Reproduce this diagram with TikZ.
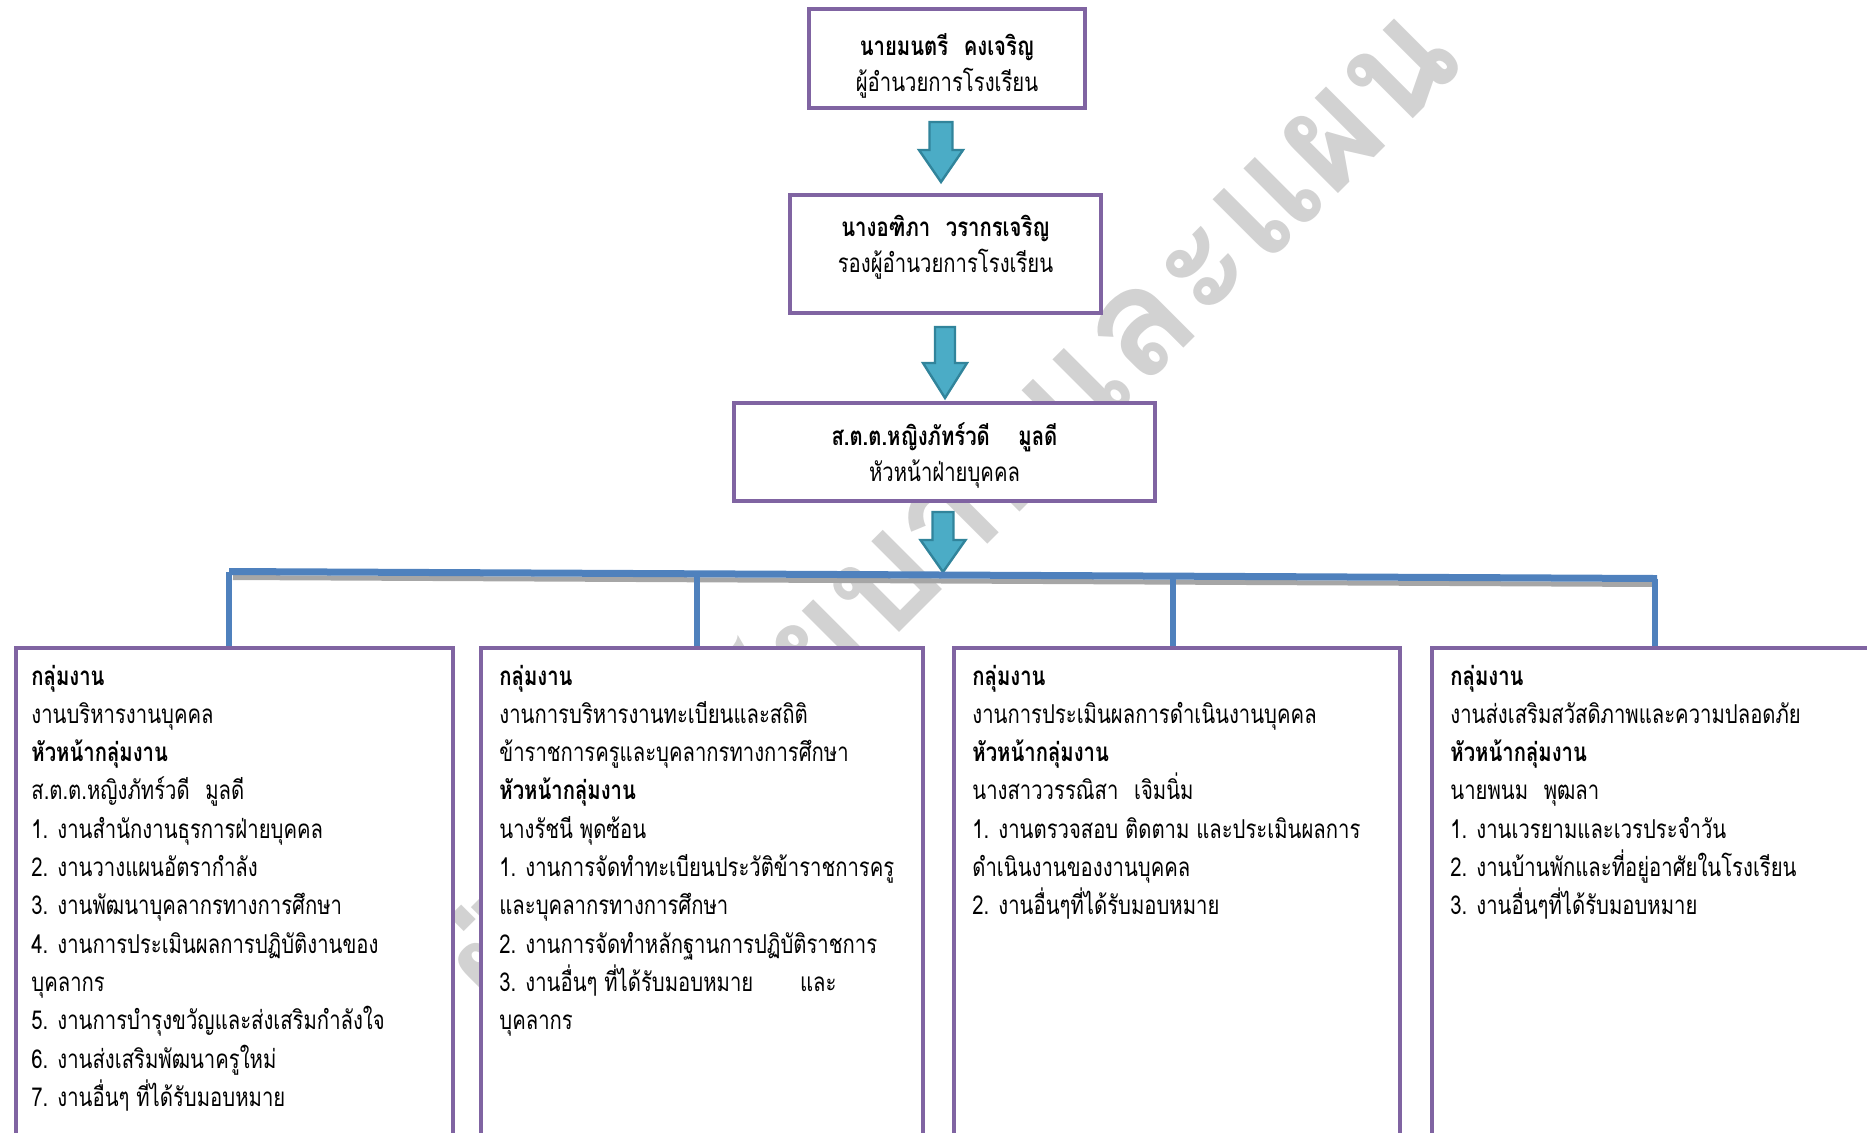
\documentclass[tikz,border=0pt]{standalone}
\usepackage{fontspec}
\usepackage{graphicx}
\setmainfont[Script=Thai, FakeStretch=0.78]{Loma}
\newfontfamily\wmfont[Script=Thai]{Loma}
\usetikzlibrary{calc}
\definecolor{boxpurple}{HTML}{8064A2}
\definecolor{busblue}{HTML}{4F81BD}
\definecolor{arrowfill}{HTML}{4BACC6}
\definecolor{arrowline}{HTML}{31849B}
\definecolor{shadowgray}{HTML}{A6A6A6}
\definecolor{wmgray}{HTML}{D2D2D2}
\begin{document}
\begin{tikzpicture}[x=0.5pt,y=-0.5pt,
  orgbox/.style={draw=boxpurple, line width=2pt, fill=white, rectangle, inner sep=0pt},
  toptext/.style={anchor=base, inner sep=0pt, font=\fontsize{13}{18}\selectfont},
  listtext/.style={anchor=base west, inner sep=0pt, font=\fontsize{13}{19.15}\selectfont},
  blockarrow/.style={fill=arrowfill, draw=arrowline, line width=1.2pt, line join=miter},
  busline/.style={draw=busblue, line width=3.5pt},
  busdrop/.style={draw=busblue, line width=3pt},
  busshadow/.style={draw=shadowgray, line width=2.5pt},
  watermark/.style={text=wmgray, inner sep=0pt, rotate=45}]
\useasboundingbox (0,0) rectangle (1867,1132);
\clip (0,0) rectangle (1867,1132);

% watermark
\node[watermark] (wm) at (945,505) {\resizebox{680pt}{!}{\wmfont\bfseries ฝ่ายนโยบายและแผน}};

% top boxes
\node[orgbox, minimum width=138pt, minimum height=49.5pt] (t1) at (947,58.5) {};
\node[orgbox, minimum width=155.5pt, minimum height=59pt] (t2) at (945.5,254) {};
\node[orgbox, minimum width=210.5pt, minimum height=49pt] (t3) at (944.5,452) {};

\node[toptext] (t1txt) at (947,55) {\parbox[t]{200pt}{\centering\textbf{นายมนตรี\hspace{0.6em}คงเจริญ}\\ผู้อำนวยการโรงเรียน}};
\node[toptext] (t2txt) at (945.5,236) {\parbox[t]{200pt}{\centering\textbf{นางอฑิภา\hspace{0.6em}วรากรเจริญ}\\รองผู้อำนวยการโรงเรียน}};
\node[toptext] (t3txt) at (944.5,445) {\parbox[t]{200pt}{\centering\textbf{ส.ต.ต.หญิงภัทร์วดี\hspace{1.1em}มูลดี}\\หัวหน้าฝ่ายบุคคล}};

% block arrows
\filldraw[blockarrow] (929.5,122) -- (952.5,122) -- (952.5,150) -- (963,150) -- (941,182) -- (919,150) -- (929.5,150) -- cycle;
\filldraw[blockarrow] (935,327) -- (955,327) -- (955,363) -- (967,363) -- (945,398) -- (923,363) -- (935,363) -- cycle;
\filldraw[blockarrow] (932.5,512) -- (953.5,512) -- (953.5,540) -- (965.5,540) -- (943,572) -- (920.5,540) -- (932.5,540) -- cycle;

% bottom boxes
\node[orgbox, anchor=north west, minimum width=218.5pt, minimum height=270pt] (b1) at (14,646) {};
\node[orgbox, anchor=north west, minimum width=221pt, minimum height=270pt] (b2) at (479,646) {};
\node[orgbox, anchor=north west, minimum width=223pt, minimum height=270pt] (b3) at (952,646) {};
\node[orgbox, anchor=north west, minimum width=240pt, minimum height=270pt] (b4) at (1430,646) {};

% bus
\coordinate (busL) at (229,571.5);
\coordinate (busR) at (1657,578.5);
\coordinate (v1) at (229,571.5);
\coordinate (v2) at (697,573.8);
\coordinate (v3) at (1173,576.1);
\coordinate (v4) at (1655,578.5);
\draw[busshadow] ($(busL)+(4,6)$) -- ($(busR)+(0,6)$);
\draw[busline] (busL) -- (busR);
\draw[busdrop] (v1) -- (v1 |- b1.north);
\draw[busdrop] (v2) -- (v2 |- b2.north);
\draw[busdrop] (v3) -- (v3 |- b3.north);
\draw[busdrop] (v4) -- (v4 |- b4.north);

% list texts
\node[listtext] (b1txt) at (31,685) {\parbox[t]{300pt}{\raggedright
\textbf{กลุ่มงาน}\\
งานบริหารงานบุคคล\\
\textbf{หัวหน้ากลุ่มงาน}\\
ส.ต.ต.หญิงภัทร์วดี\hspace{0.6em}มูลดี\\
1. งานสำนักงานธุรการฝ่ายบุคคล\\
2. งานวางแผนอัตรากำลัง\\
3. งานพัฒนาบุคลากรทางการศึกษา\\
4. งานการประเมินผลการปฏิบัติงานของ\\
บุคลากร\\
5. งานการบำรุงขวัญและส่งเสริมกำลังใจ\\
6. งานส่งเสริมพัฒนาครูใหม่\\
7. งานอื่นๆ ที่ได้รับมอบหมาย}};

\node[listtext] (b2txt) at (499,685) {\parbox[t]{300pt}{\raggedright
\textbf{กลุ่มงาน}\\
งานการบริหารงานทะเบียนและสถิติ\\
ข้าราชการครูและบุคลากรทางการศึกษา\\
\textbf{หัวหน้ากลุ่มงาน}\\
นางรัชนี พุดซ้อน\\
1. งานการจัดทำทะเบียนประวัติข้าราชการครู\\
และบุคลากรทางการศึกษา\\
2. งานการจัดทำหลักฐานการปฏิบัติราชการ\\
3. งานอื่นๆ ที่ได้รับมอบหมาย\hspace{1.8em}และ\\
บุคลากร}};

\node[listtext] (b3txt) at (972,685) {\parbox[t]{300pt}{\raggedright
\textbf{กลุ่มงาน}\\
งานการประเมินผลการดำเนินงานบุคคล\\
\textbf{หัวหน้ากลุ่มงาน}\\
นางสาววรรณิสา\hspace{0.6em}เจิมนิ่ม\\
1. งานตรวจสอบ ติดตาม และประเมินผลการ\\
ดำเนินงานของงานบุคคล\\
2. งานอื่นๆที่ได้รับมอบหมาย}};

\node[listtext] (b4txt) at (1450,685) {\parbox[t]{300pt}{\raggedright
\textbf{กลุ่มงาน}\\
งานส่งเสริมสวัสดิภาพและความปลอดภัย\\
\textbf{หัวหน้ากลุ่มงาน}\\
นายพนม\hspace{0.6em}พุฒลา\\
1. งานเวรยามและเวรประจำวัน\\
2. งานบ้านพักและที่อยู่อาศัยในโรงเรียน\\
3. งานอื่นๆที่ได้รับมอบหมาย}};
\end{tikzpicture}
\end{document}
